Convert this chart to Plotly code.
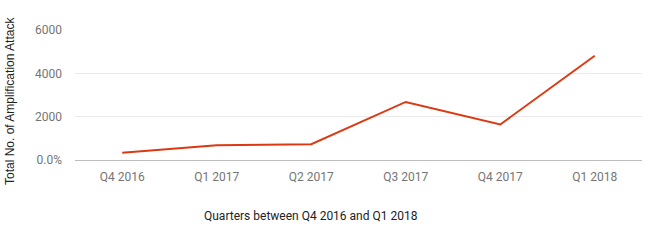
import plotly.graph_objects as go

quarters = ["Q4 2016", "Q1 2017", "Q2 2017", "Q3 2017", "Q4 2017", "Q1 2018"]
attacks = [340, 680, 730, 2680, 1640, 4810]
y_tickvals = [0, 2000, 4000, 6000]
y_ticktext = ["0.0%", "2000", "4000", "6000"]

fig = go.Figure()
fig.add_trace(go.Scatter(
    x=list(range(len(quarters))), y=attacks, mode="lines",
    line=dict(color="#dc3912", width=2), hoverinfo="skip", showlegend=False,
))

fig.update_layout(
    width=650, height=243,
    margin=dict(l=75, r=8, t=30, b=83),
    paper_bgcolor="white", plot_bgcolor="white",
    font=dict(family="Roboto", size=12, color="#757575"),
    xaxis=dict(
        range=[-0.5, 5.5], tickvals=list(range(len(quarters))), ticktext=quarters,
        showgrid=False, zeroline=False, showline=False, ticks="",
        ticklabelstandoff=8, fixedrange=True,
    ),
    yaxis=dict(
        range=[0, 6000], tickvals=y_tickvals, ticktext=y_ticktext,
        showgrid=True, gridcolor="#ebebeb", gridwidth=1,
        zeroline=True, zerolinecolor="#bdbdbd", zerolinewidth=1,
        showline=False, ticks="", ticklabelstandoff=12, fixedrange=True,
    ),
    annotations=[
        dict(text="Quarters between Q4 2016 and Q1 2018", xref="paper", yref="paper",
             x=(311 - 75) / 567, y=-(216 - 160) / 130, xanchor="center", yanchor="middle",
             showarrow=False, font=dict(family="Roboto", size=12, color="#222222")),
        dict(text="Total No. of Amplification Attack", xref="paper", yref="paper",
             x=-(75 - 10) / 567, y=(160 - 101) / 130, xanchor="center", yanchor="middle",
             textangle=-90, showarrow=False,
             font=dict(family="Liberation Sans", size=12, color="#222222")),
    ],
)

fig.write_html("out.html")
